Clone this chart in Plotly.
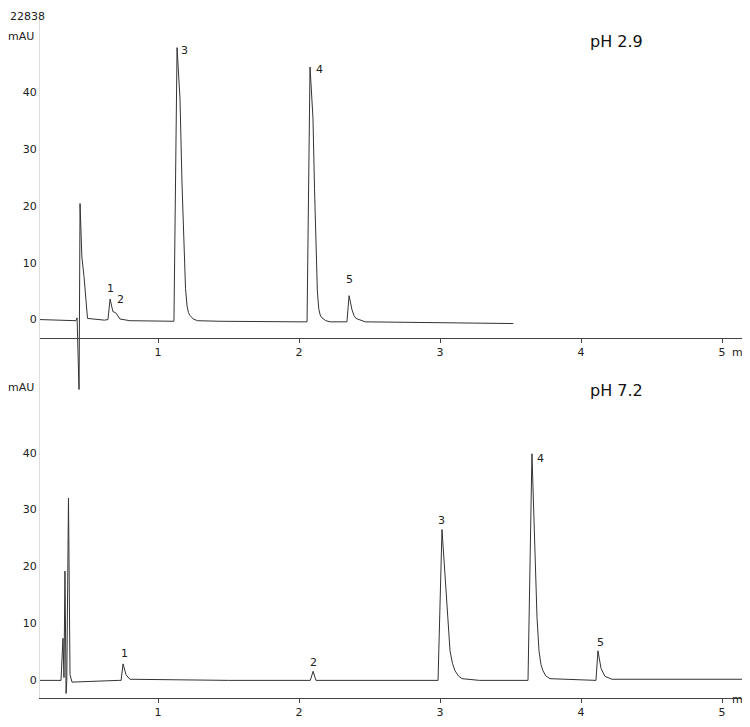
import plotly.graph_objects as go

# pH 2.9 trace (time in min, signal in mAU)
t_top = [0.163, 0.418, 0.426, 0.44, 0.447, 0.46, 0.475, 0.49, 0.50, 0.62, 0.645, 0.66, 0.68, 0.70, 0.73, 0.80, 1.0,
         1.113, 1.135, 1.156, 1.17, 1.184, 1.195, 1.206, 1.216, 1.227, 1.25, 1.28, 1.44, 2.0, 2.057, 2.078, 2.099,
         2.11, 2.12, 2.13, 2.14, 2.15, 2.163, 2.19, 2.22, 2.34, 2.355, 2.376, 2.39, 2.404, 2.47, 3.52]
v_top = [0.0, -0.2, 0.3, -12.8, 20.4, 11.0, 7.6, 2.5, 0.2, -0.1, 0.0, 3.6, 1.4, 1.2, 0.1, -0.2, -0.3,
         -0.3, 47.8, 38.8, 24.0, 12.8, 5.5, 2.4, 1.2, 0.7, 0.1, -0.2, -0.3, -0.4, -0.4, 44.4, 35.4,
         23.0, 12.8, 5.0, 1.9, 0.8, 0.3, -0.2, -0.4, -0.4, 4.2, 1.7, 0.7, 0.2, -0.4, -0.7]

# pH 7.2 trace
t_bot = [0.163, 0.312, 0.326, 0.333, 0.340, 0.348, 0.353, 0.365, 0.376, 0.39, 0.72, 0.738, 0.752, 0.773,
         0.80, 1.5, 2.08, 2.10, 2.12, 2.2, 2.986, 3.014, 3.043, 3.057, 3.071, 3.088, 3.106, 3.13, 3.156, 3.28,
         3.624, 3.652, 3.674, 3.688, 3.702, 3.716, 3.73, 3.75, 3.78, 4.106, 4.12, 4.142, 4.17, 4.22, 5.2]
v_bot = [0.0, 0.0, 7.4, 0.5, 19.2, -2.3, 0.0, 32.0, 1.0, -0.3, 0.0, 0.0, 2.9, 1.0,
         0.2, 0.0, 0.0, 1.6, 0.0, 0.0, 0.0, 26.5, 15.6, 9.5, 5.2, 3.0, 1.7, 0.8, 0.3, 0.0,
         0.0, 39.8, 22.5, 11.0, 5.2, 2.8, 1.7, 0.8, 0.3, 0.0, 5.2, 2.1, 0.7, 0.2, 0.2]

# peak labels: (time, mAU, text)
lab_top = [(0.66, 5.5, "1"), (0.737, 3.5, "2"), (1.19, 47.3, "3"), (2.142, 44.0, "4"), (2.355, 7.0, "5")]
lab_bot = [(0.759, 4.7, "1"), (2.106, 3.1, "2"), (3.014, 28.1, "3"), (3.71, 39.0, "4"), (4.135, 6.6, "5")]

xticks = [1, 2, 3, 4, 5]
yticks = [0, 10, 20, 30, 40]

# the page adds an 8px body margin, so the figure is drawn 16px smaller
OFF = 8
W, H = 750 - 2 * OFF, 727 - 2 * OFF


def px(p):
    return (p - OFF) / W


def py(p):
    return 1 - (p - OFF) / H


fig = go.Figure()
line = dict(color="#333333", width=1)
fig.add_trace(go.Scatter(x=t_top, y=v_top, mode="lines", line=line, xaxis="x", yaxis="y"))
fig.add_trace(go.Scatter(x=t_bot, y=v_bot, mode="lines", line=line, xaxis="x2", yaxis="y2"))

font = dict(family="DejaVu Sans", size=11, color="#222")
x_end = 0.163 + (742 - 40) / 141
ax = dict(range=[0.163, x_end], tickvals=xticks, ticks="outside", ticklen=4, tickcolor="#444",
          showline=True, linecolor="#444", linewidth=1, showgrid=False, zeroline=False,
          tickfont=font, domain=[px(40), 1])
ay = dict(tickvals=yticks, showgrid=False, zeroline=False, showline=True, linecolor="#ddd",
          ticks="", tickfont=font)

fig.update_layout(
    width=W, height=H, margin=dict(l=0, r=0, t=0, b=0),
    plot_bgcolor="white", paper_bgcolor="white", showlegend=False,
    xaxis=dict(ax, anchor="free", position=py(343)),
    yaxis=dict(ay, range=[-13.17, 52.69], domain=[py(400), py(20)], anchor="x"),
    xaxis2=dict(ax, anchor="y2"),
    yaxis2=dict(ay, range=[-3.12, (690 - 395) / 5.775], domain=[py(708), py(395)], anchor="x2"),
)

for t, v, s in lab_top:
    fig.add_annotation(x=t, y=v, text=s, xref="x", yref="y", showarrow=False, font=font)
for t, v, s in lab_bot:
    fig.add_annotation(x=t, y=v, text=s, xref="x2", yref="y2", showarrow=False, font=font)

paper = dict(xref="paper", yref="paper", showarrow=False, font=font)
fig.add_annotation(x=0, y=1, xanchor="left", yanchor="top", text="22838", **paper)
fig.add_annotation(x=px(6), y=py(28), xanchor="left", text="mAU", **paper)
fig.add_annotation(x=px(6), y=py(393), xanchor="left", text="mAU", **paper)
fig.add_annotation(x=px(730), y=py(357), xanchor="left", text="min", **paper)
fig.add_annotation(x=px(730), y=py(718), xanchor="left", text="min", **paper)
big = dict(family="DejaVu Sans", size=16, color="#111")
fig.add_annotation(x=px(645), y=py(30), text="pH 2.9", xref="paper", yref="paper", showarrow=False, font=big)
fig.add_annotation(x=px(645), y=py(396), text="pH 7.2", xref="paper", yref="paper", showarrow=False, font=big)

fig.write_html("out.html")
